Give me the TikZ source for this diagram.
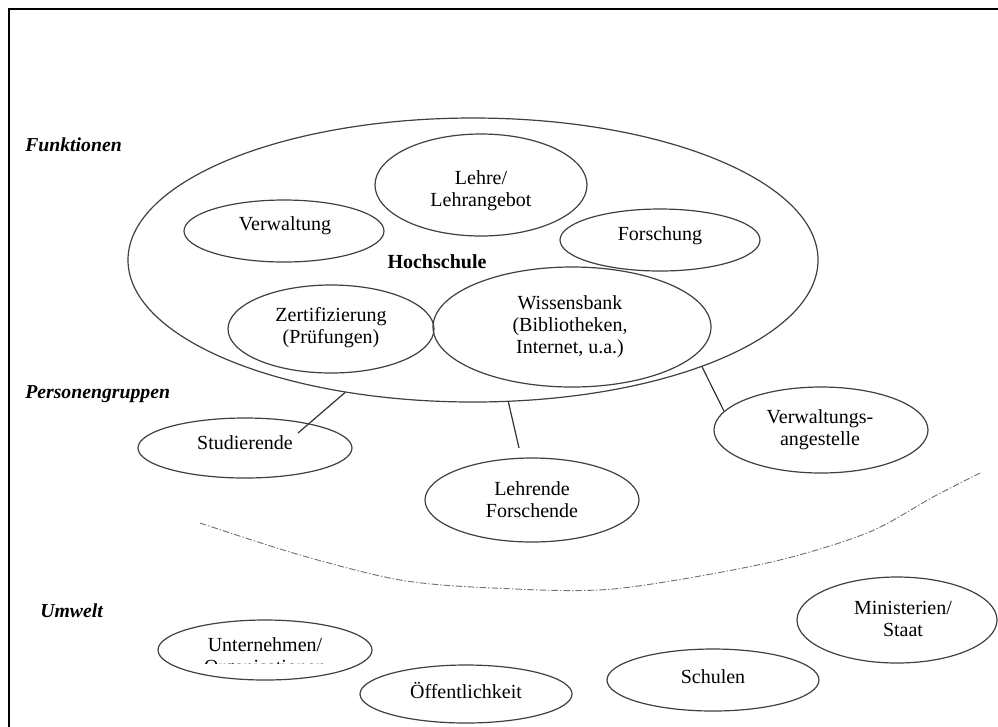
\documentclass[tikz,border=0pt]{standalone}
\usepackage{fontspec}
\setmainfont{Liberation Serif}
\usetikzlibrary{shapes.geometric,calc}
\begin{document}
\begin{tikzpicture}[x=0.75pt,y=-0.75pt,
  ell/.style={draw=black!75, line width=0.9pt, ellipse, inner sep=0pt},
  E/.style 2 args={minimum width=#1*1.5pt, minimum height=#2*1.5pt},
  lbl/.style={font=\fontsize{15}{16.5}\selectfont, align=center, inner sep=0pt},
  side/.style={font=\fontsize{14.8}{16}\selectfont\bfseries\itshape, anchor=west, inner sep=0pt},
  conn/.style={draw=black!80, line width=0.9pt},
  sep/.style={draw=black!55, line width=0.7pt, dash pattern=on 5pt off 1.5pt on 1pt off 1.5pt}]
\useasboundingbox (0,0) rectangle (998,726);
\fill[white] (0,0) rectangle (998,726);
\draw[line width=2.2pt] (9,730) -- (9,9) -- (1002,9);

% side labels
\node[side] (funk) at (25,145) {Funktionen};
\node[side] (pers) at (25,394) {Personengruppen};
\node[side] (umw) at (40,611) {Umwelt};

% Hochschule
\node[ell,E={345}{142}] (hs) at (473,260) {};
\node[lbl,font=\fontsize{15}{16.5}\selectfont\bfseries] (hst) at (437,262) {Hochschule};

\node[ell,E={106}{51}] (lehre) at (481,185) {};
\node[lbl] (lehret) at (481,191) {Lehre/\\Lehrangebot};

\node[ell,E={100}{31}] (verw) at (284,231) {};
\node[lbl] (verwt) at (285,226) {Verwaltung};

\node[ell,E={100}{31}] (forsch) at (660,240) {};
\node[lbl] (forscht) at (660,236) {Forschung};

\node[ell,E={103}{44}] (zert) at (331,329) {};
\node[lbl] (zertt) at (331,328) {Zertifizierung\\(Prüfungen)};

\node[ell,E={139}{60}] (wiss) at (572,327) {};
\node[lbl] (wisst) at (570,327) {Wissensbank\\(Bibliotheken,\\Internet, u.a.)};

% Personengruppen
\node[ell,E={107}{30}] (stud) at (245,448) {};
\node[lbl] (studt) at (245,443) {Studierende};

\node[ell,E={107}{42}] (lf) at (532,500) {};
\node[lbl] (lft) at (532,500) {Lehrende\\Forschende};

\node[ell,E={107}{43}] (va) at (821,430) {};
\node[lbl] (vat) at (820,430) {Verwaltungs-\\angestelle};

\draw[conn] (hs.226.8) -- ([shift={(53,-15)}]stud.center);
\draw[conn] (hs.284.1) -- ([shift={(-13,-52)}]lf.center);
\draw[conn] (hs.335.6) -- (va.169);

% separator
\draw[sep] plot[smooth] coordinates {(200,523) (300,555) (400,580) (493,588) (613,589) (767,563) (867,533) (933,497) (980,473)};

% Umwelt
\node[ell,E={107}{30}] (unt) at (265,650) {};
\node[lbl] (untt) at (265,645) {Unternehmen/};
\begin{scope}
  \clip (150,655) rectangle (380,663);
  \node[lbl] (orgt) at (265,669) {Organisationen};
\end{scope}

\node[ell,E={106}{29}] (oeff) at (466,694) {};
\node[lbl] (oefft) at (466,690) {Öffentlichkeit};

\node[ell,E={106}{31}] (schul) at (713,680) {};
\node[lbl] (schult) at (713,677) {Schulen};

\node[ell,E={100}{43}] (min) at (897,620) {};
\node[lbl] (mint) at (903,619) {Ministerien/\\Staat};
\end{tikzpicture}
\end{document}
